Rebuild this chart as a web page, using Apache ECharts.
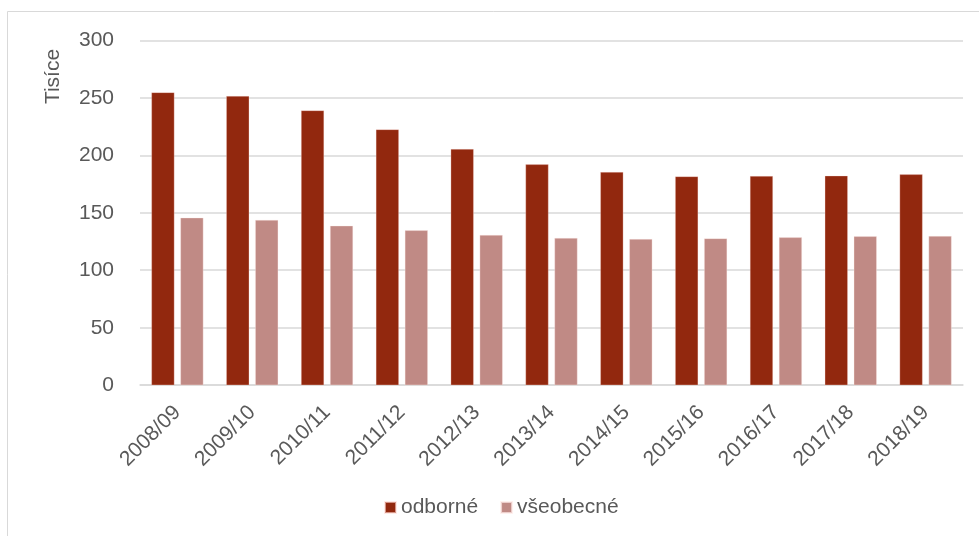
<!DOCTYPE html>
<html>
<head>
<meta charset="utf-8">
<script src="https://cdn.jsdelivr.net/npm/echarts@6/dist/echarts.min.js"></script>
<style>
html,body{margin:0;padding:0;background:#fff;}
#c{width:979px;height:536px;}
</style>
</head>
<body>
<div id="c"></div>
<script>
const categories = ['2008/09','2009/10','2010/11','2011/12','2012/13','2013/14','2014/15','2015/16','2016/17','2017/18','2018/19'];
const odborne = [254.7, 251.5, 239, 222.5, 205.4, 192.1, 185.4, 181.6, 181.9, 182.2, 183.4];
const vseobecne = [145.7, 143.7, 138.7, 134.7, 130.6, 128, 127.1, 127.7, 128.6, 129.5, 129.7];
const yTicks = [0, 50, 100, 150, 200, 250, 300];

const chart = echarts.init(document.getElementById('c'), null, {renderer: 'canvas'});
const txt = '#595959';
const font = 'Liberation Sans, Arial, sans-serif';
chart.setOption({
  animation: false,
  backgroundColor: '#fff',
  textStyle: {fontFamily: font},
  graphic: [
    {type: 'rect', shape: {x: 7.5, y: 11.5, width: 1100, height: 700}, style: {fill: 'none', stroke: '#d9d9d9', lineWidth: 1}, silent: true},
    {type: 'text', x: 53, y: 76.5, rotation: Math.PI / 2,
     style: {text: 'Tisíce', fill: txt, font: '21px ' + font, align: 'center', verticalAlign: 'middle'}}
  ],
  grid: {left: 140, right: 16, top: 40.3, bottom: 150.8, containLabel: false},
  legend: {
    left: 379, top: 492,
    icon: 'rect', itemWidth: 11, itemHeight: 11, itemGap: 22,
    textStyle: {color: txt, fontSize: 21, fontFamily: font},
    data: ['odborné', 'všeobecné']
  },
  xAxis: {
    type: 'category',
    data: categories,
    axisLine: {show: true, lineStyle: {color: '#d9d9d9', width: 1.5}},
    axisTick: {show: false},
    axisLabel: {rotate: 45, color: txt, fontSize: 21, fontFamily: font, margin: 24, interval: 0}
  },
  yAxis: {
    type: 'value',
    min: yTicks[0], max: yTicks[yTicks.length - 1], interval: 50,
    axisLine: {show: false},
    axisTick: {show: false},
    splitLine: {lineStyle: {color: '#d9d9d9', width: 1.5}},
    axisLabel: {color: txt, fontSize: 21, fontFamily: font, margin: 26}
  },
  series: [
    {name: 'odborné', type: 'bar', data: odborne, barWidth: 23, barGap: '26%',
     itemStyle: {color: '#92280E', borderColor: 'rgba(255,220,215,0.6)', borderWidth: 0.5}},
    {name: 'všeobecné', type: 'bar', data: vseobecne, barWidth: 23,
     itemStyle: {color: '#C08A85', borderColor: 'rgba(255,235,232,0.7)', borderWidth: 0.5}}
  ]
});
</script>
</body>
</html>
